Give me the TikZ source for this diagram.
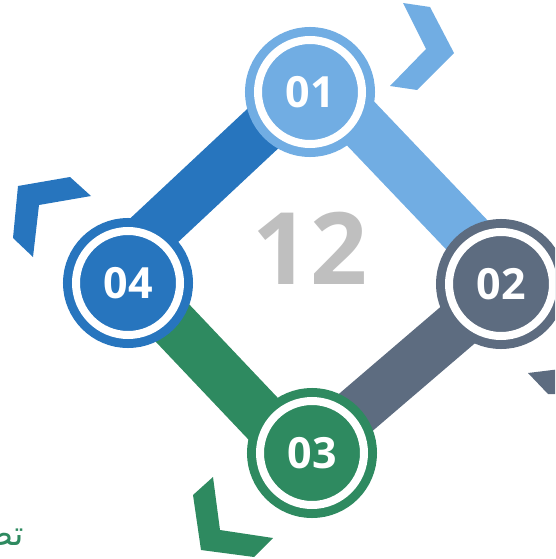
\documentclass[tikz,border=0pt]{standalone}
\usepackage{fontspec}
\setmainfont{Open Sans}
\newfontfamily\arabicfont[Script=Arabic]{DejaVu Sans}
\TeXXeTstate=1
\definecolor{skyblue}{HTML}{71ADE3}
\definecolor{deepblue}{HTML}{2775BE}
\definecolor{slategray}{HTML}{5D6C80}
\definecolor{leafgreen}{HTML}{2E8A60}
\definecolor{lightgray}{HTML}{BFBFBF}

\begin{document}
\begin{tikzpicture}[x=1pt, y=-1pt,
stepcircle/.style={circle, inner sep=0pt, minimum size=104pt, fill=#1, draw=#1, double=white, double distance=8pt, line width=9pt, text=white, font=\fontsize{43}{43}\selectfont\bfseries},
barline/.style={draw=#1, line width=50pt},
chevron/.style={fill=#1},
]
\useasboundingbox (0,0) rectangle (555,559);
\clip (0,0) rectangle (555,559);

%Chevrons
\fill[chevron=skyblue] (403,3) -- (430,7) -- (454,53) -- (417,90) -- (390,86) -- (426,49) -- cycle;
\fill[chevron=deepblue] (18,186) -- (70,177) -- (91,196) -- (39,205) -- (33,257) -- (13,238) -- cycle;
\fill[chevron=leafgreen] (213,477) -- (220,530) -- (273,538) -- (254,557) -- (201,550) -- (193,495) -- cycle;
\fill[chevron=slategray] (528,373) -- (585,366) -- (600,420) -- (570,394) -- (548,394) -- cycle;

%Bar ends
\coordinate (fourA) at (133,250);
\coordinate (oneA)  at (287,106);
\coordinate (oneB)  at (342,104);
\coordinate (twoA)  at (487,256);
\coordinate (fourB) at (144,293);
\coordinate (threeA) at (289,446);
\coordinate (threeB) at (327,437);
\coordinate (twoB)  at (487,300);

%Lines
\draw[barline=deepblue]  (fourA) -- (oneA);
\draw[barline=skyblue]   (oneB) -- (twoA);
\draw[barline=leafgreen] (fourB) -- (threeA);
\draw[barline=slategray] (threeB) -- (twoB);

%Circles
\node[stepcircle=skyblue]   (stepone)   at (310,92)  {01};
\node[stepcircle=slategray] (steptwo)   at (501,284) {02};
\node[stepcircle=leafgreen] (stepthree) at (312,453) {03};
\node[stepcircle=deepblue]  (stepfour)  at (128,283) {04};

\node[text=lightgray, font=\fontsize{100}{100}\selectfont\bfseries] (total) at (310,248) {12};

\node[text=leafgreen, anchor=base east, inner sep=0pt, font=\fontsize{34}{34}\arabicfont] (caption) at (24,545) {\beginR تص\endR};
\end{tikzpicture}
\end{document}
